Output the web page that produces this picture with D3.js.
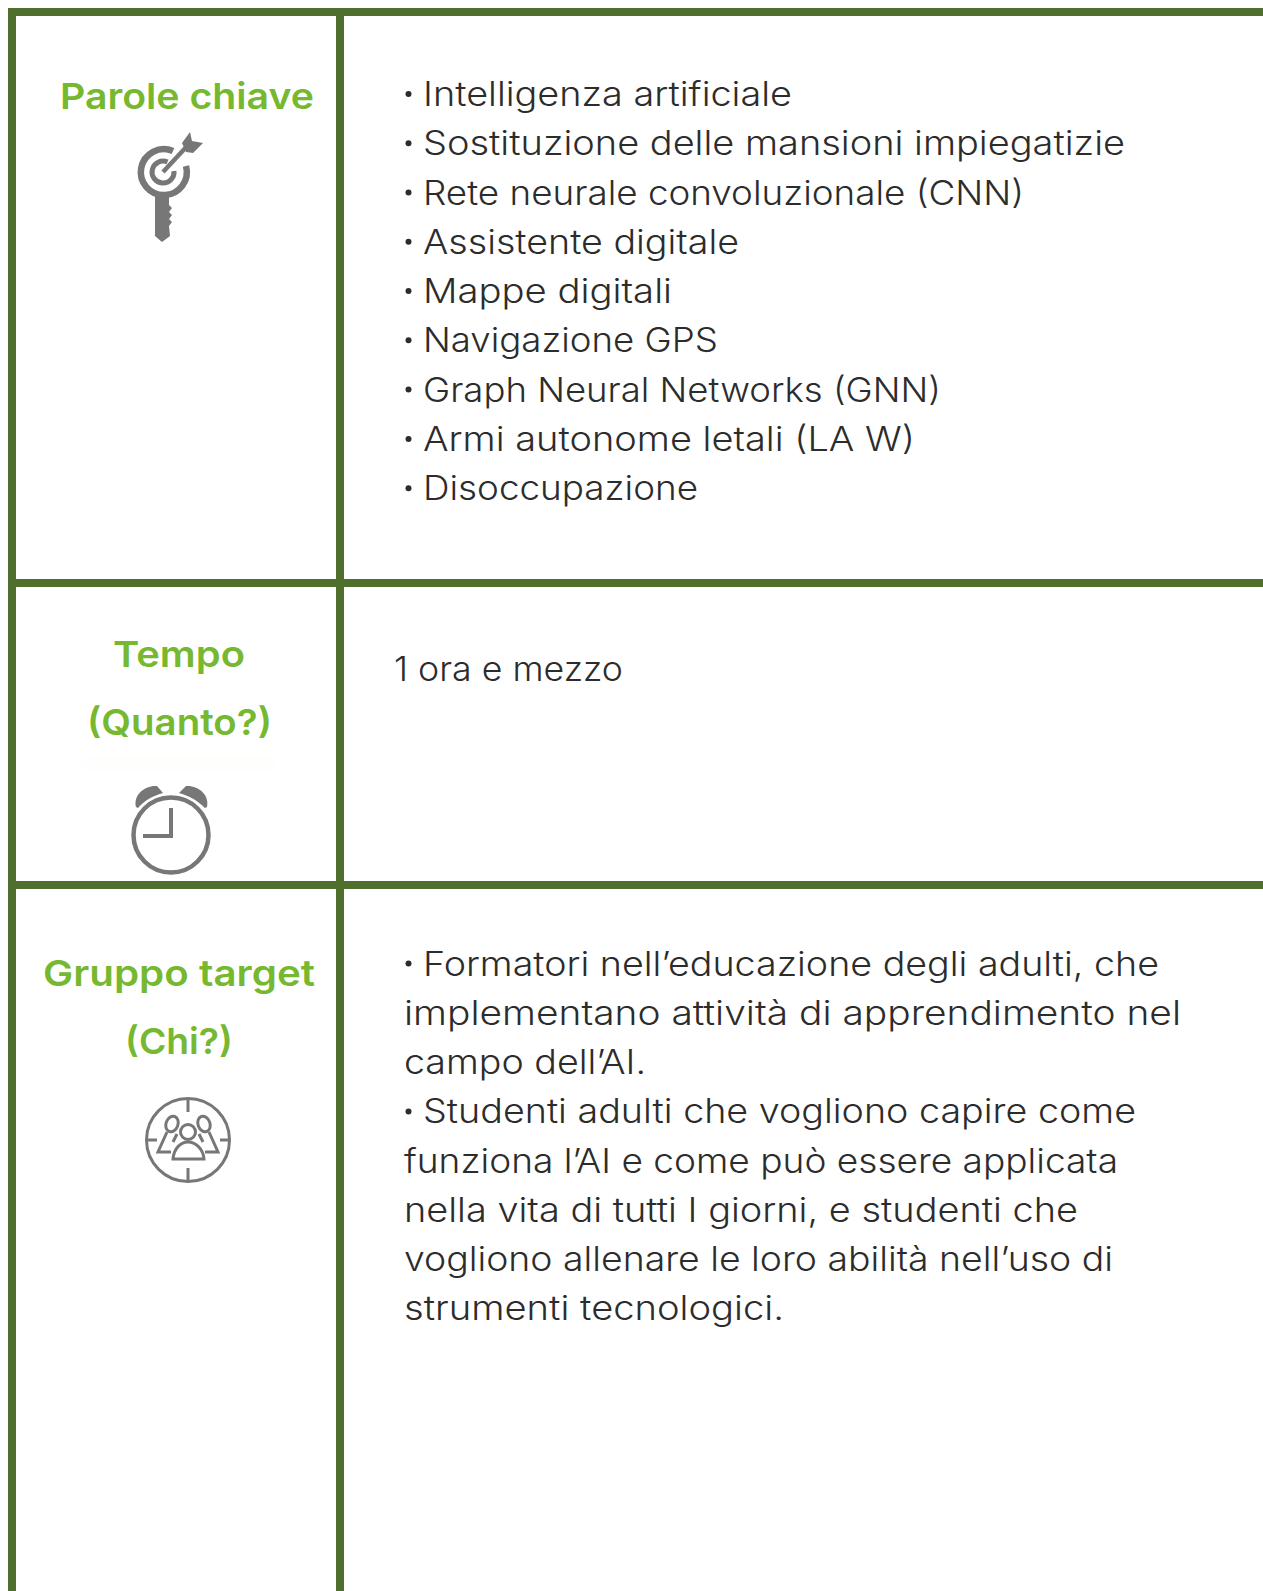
<!DOCTYPE html>
<html>
<head>
<meta charset="utf-8">
<script src="https://cdn.jsdelivr.net/npm/d3@7"></script>
<style>
  html, body { margin: 0; padding: 0; background: #fff; overflow: hidden; }
  text { font-family: "Inter", "Noto Sans", sans-serif; }
</style>
</head>
<body>
<script>
// table content
let keywordLines = [
  "Intelligenza artificiale",
  "Sostituzione delle mansioni impiegatizie",
  "Rete neurale convoluzionale (CNN)",
  "Assistente digitale",
  "Mappe digitali",
  "Navigazione GPS",
  "Graph Neural Networks (GNN)",
  "Armi autonome letali (LA W)",
  "Disoccupazione"
]
let timeLines = ["1 ora e mezzo"]
let targetLines = [
  "Formatori nell’educazione degli adulti, che",
  "implementano attività di apprendimento nel",
  "campo dell’AI.",
  "Studenti adulti che vogliono capire come",
  "funziona l’AI e come può essere applicata",
  "nella vita di tutti I giorni, e studenti che",
  "vogliono allenare le loro abilità nell’uso di",
  "strumenti tecnologici."
]
let targetBullets = [0, 3]
let headings = [
  ["Parole chiave"],
  ["Tempo", "(Quanto?)"],
  ["Gruppo target", "(Chi?)"]
]

const width = 1263, height = 1591
const green = "#4f702c", light = "#76b82f", grey = "#777777", ink = "#2c2c2c"

// where each line of text has to end, the substitute font is narrower than the original
const keywordEnds = [792, 1125, 1024, 739, 672, 718, 941, 915, 698]
const timeEnds = [623]
const targetEnds = [1159, 1181, 646, 1136, 1118, 1078, 1113, 784]

let svg = d3.select("body").append("svg")
  .attr("width", width).attr("height", height)
  .style("display", "block")

// faint smudge left under (Quanto?)
svg.append("rect").attr("x", 82).attr("y", 757).attr("width", 193).attr("height", 15).attr("fill", "#fefefc")

// borders
let hRules = [12, 583, 885]
let vRules = [12, 340]
svg.selectAll(".h").data(hRules).enter().append("line")
  .attr("x1", 8).attr("x2", width)
  .attr("y1", d => d).attr("y2", d => d)
  .attr("stroke", green).attr("stroke-width", 8)
svg.selectAll(".v").data(vRules).enter().append("line")
  .attr("x1", d => d).attr("x2", d => d)
  .attr("y1", 8).attr("y2", height)
  .attr("stroke", green).attr("stroke-width", 8)

// body text, one line step shared by all blocks
const lineStep = 49.27
function lineScale(first){
  return d3.scaleLinear().domain([0, 1]).range([first, first + lineStep])
}
function bodyBlock(lines, ends, first, xOf){
  let y = lineScale(first)
  svg.append("g").selectAll("text").data(lines).enter().append("text")
    .attr("x", (d, i) => xOf(i)).attr("y", (d, i) => y(i))
    .attr("font-size", 33.5).attr("font-weight", 300).attr("fill", ink)
    .attr("textLength", (d, i) => ends[i] - xOf(i))
    .attr("lengthAdjust", "spacingAndGlyphs")
    .text(d => d)
  return y
}
function bullets(indexes, y){
  svg.append("g").selectAll("circle").data(indexes).enter().append("circle")
    .attr("cx", 408.5).attr("cy", d => y(d) - 12)
    .attr("r", 3).attr("fill", ink)
}
let y1 = bodyBlock(keywordLines, keywordEnds, 106, i => 423)
bullets(d3.range(keywordLines.length), y1)
bodyBlock(timeLines, timeEnds, 681, i => 394)
let yT = bodyBlock(targetLines, targetEnds, 975.6, i => targetBullets.includes(i) ? 423 : 404)
bullets(targetBullets, yT)

// green headings
let headStart = [[60], [113, 87], [43, 125]]
let headEnd = [[314], [245, 272], [315, 233]]
let headY = [[109], [667, 735], [986, 1054]]
headings.forEach((lines, k) => {
  svg.append("g").selectAll("text").data(lines).enter().append("text")
    .attr("x", (d, i) => headStart[k][i]).attr("y", (d, i) => headY[k][i])
    .attr("font-size", 36).attr("font-weight", 600)
    .attr("fill", light)
    .attr("textLength", (d, i) => headEnd[k][i] - headStart[k][i])
    .attr("lengthAdjust", "spacingAndGlyphs")
    .text(d => d)
})

// key + target icon
let key = svg.append("g").attr("fill", "none").attr("stroke", grey)
key.append("path").attr("d", "M173 151 A23 23 0 1 0 186 166").attr("stroke-width", 6.5)
key.append("path").attr("d", "M167.5 162 A11 11 0 1 0 174 171").attr("stroke-width", 5)
key.append("path").attr("d", "M163 172 L190 143").attr("stroke-width", 4.5)
key.append("path").attr("stroke", "none").attr("fill", grey)
  .attr("d", "M182 143 L190 132 L192 141 L203 143 L193 153 L186 152 Z")
key.append("path").attr("stroke", "none").attr("fill", grey)
  .attr("d", "M155 193 L169 193 L169 205 L172 208 L169 212 L172 215 L169 219 L172 222 L169 226 L170 236 L162 242 L155 236 Z")

// alarm clock
let clock = svg.append("g").attr("fill", "none").attr("stroke", grey)
clock.append("circle").attr("cx", 171).attr("cy", 835).attr("r", 37.5).attr("stroke-width", 4.5)
clock.append("path").attr("d", "M171 808 L171 836 L143 836").attr("stroke-width", 4)
clock.append("path").attr("stroke", "none").attr("fill", grey)
  .attr("d", "M136 807 C133 795 145 785 157 786 L163 793 C152 796 144 801 138 808 Z")
clock.append("path").attr("stroke", "none").attr("fill", grey)
  .attr("d", "M207 807 C210 795 198 785 186 786 L179 793 C190 796 198 801 205 808 Z")

// people in a crosshair
let people = svg.append("g").attr("fill", "none").attr("stroke", grey).attr("stroke-width", 3)
people.append("circle").attr("cx", 188).attr("cy", 1140).attr("r", 41.5)
people.append("path").attr("d", "M188 1098 V1112 M188 1168 V1182 M147 1140 H157 M220 1140 H230")
people.append("circle").attr("cx", 188).attr("cy", 1132).attr("r", 7.5)
people.append("path").attr("d", "M173 1159 C174 1148 181 1142 188 1142 C195 1142 203 1148 204 1159 Z")
people.append("ellipse").attr("cx", 172).attr("cy", 1124).attr("rx", 6).attr("ry", 8).attr("transform", "rotate(20 172 1124)")
people.append("ellipse").attr("cx", 204).attr("cy", 1124).attr("rx", 6).attr("ry", 8).attr("transform", "rotate(-20 204 1124)")
people.append("path").attr("d", "M167 1132 L158 1152 L171 1152 M177 1134 L173 1142")
people.append("path").attr("d", "M209 1132 L218 1152 L205 1152 M199 1134 L203 1142")
</script>
</body>
</html>
